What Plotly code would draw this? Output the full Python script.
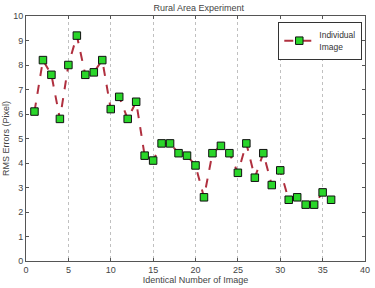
import plotly.graph_objects as go

image_ids = list(range(1, 37))
rms_errors = [6.1, 8.2, 7.6, 5.8, 8.0, 9.2, 7.6, 7.7, 8.2, 6.2,
              6.7, 5.8, 6.5, 4.3, 4.1, 4.8, 4.8, 4.4, 4.3, 3.9,
              2.6, 4.4, 4.7, 4.4, 3.6, 4.8, 3.4, 4.4, 3.1, 3.7,
              2.5, 2.6, 2.3, 2.3, 2.8, 2.5]
x_ticks = [0, 5, 10, 15, 20, 25, 30, 35, 40]
y_ticks = list(range(0, 11))

fig = go.Figure()
fig.add_trace(go.Scatter(
    x=image_ids, y=rms_errors, mode="lines+markers",
    name="Individual<br>Image",
    line=dict(color="#b0303f", width=2, dash="dash"),
    marker=dict(symbol="square", size=7.5, color="#2ad62a",
                line=dict(color="#111111", width=1)),
))

axis_font = dict(family="Liberation Sans, Arial", size=9, color="#444444")
fig.update_layout(
    width=375, height=288,
    margin=dict(l=23, r=5, t=16, b=26),
    paper_bgcolor="white", plot_bgcolor="white",
    title=dict(text="Rural Area Experiment", x=0.53, xanchor="center",
               y=0.985, yanchor="top",
               font=dict(family="Liberation Sans, Arial", size=9, color="#444444")),
    showlegend=True,
    legend=dict(x=0.992, y=0.975, xanchor="right", yanchor="top",
                bordercolor="#333333", borderwidth=1, bgcolor="white",
                font=dict(family="Liberation Sans, Arial", size=8.5, color="#333333"),
                itemwidth=30, tracegroupgap=0),
    xaxis=dict(range=[0, 40], tickvals=x_ticks, showgrid=True,
               gridcolor="#c0c0c0", griddash="dot", gridwidth=1,
               zeroline=False, showline=True, linecolor="#555555",
               mirror="ticks", ticks="inside", ticklen=3, tickcolor="#555555",
               tickfont=axis_font,
               title=dict(text="Identical Number of Image", font=axis_font, standoff=2)),
    yaxis=dict(range=[0, 10], tickvals=y_ticks, showgrid=False,
               zeroline=False, showline=True, linecolor="#555555",
               mirror="ticks", ticks="inside", ticklen=3, tickcolor="#555555",
               tickfont=axis_font,
               title=dict(text="RMS Errors (Pixel)", font=axis_font, standoff=2)),
)
fig.write_html("out.html")
